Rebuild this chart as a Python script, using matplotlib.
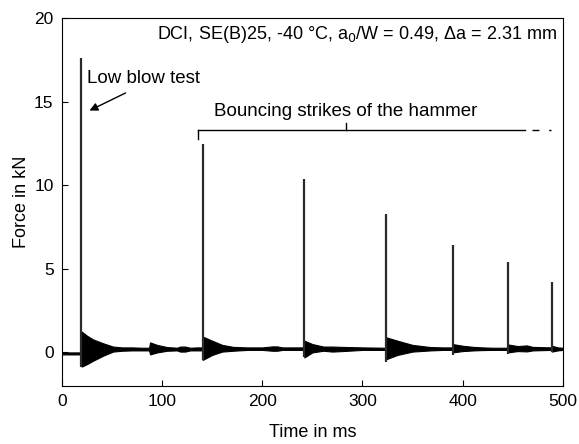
import matplotlib.pyplot as plt
import numpy as np

plt.rcParams['font.family'] = ['Liberation Sans', 'DejaVu Sans']

# hammer strikes: time (ms), peak force (kN), dip right at the strike (kN)
spike_t = [19.5, 140.5, 242, 324, 390, 445, 489]
spike_peak = [17.6, 12.5, 10.4, 8.3, 6.45, 5.4, 4.2]
spike_low = [-0.9, -0.45, -0.3, -0.6, -0.15, -0.1, 0.0]

# envelope of the ringing / noise band (upper and lower bound, kN)
env_t = [0, 18, 19.5, 19.6, 25, 31, 41, 51, 60, 70, 80, 87, 88, 95, 105, 115,
         118, 123, 128, 135, 140.4, 140.5, 150, 160, 171, 185, 200, 210, 215,
         220, 230, 241.9, 242, 250, 261, 270, 280, 300, 323.9, 324, 335, 350,
         368, 380, 389.9, 390, 400, 411, 420, 430, 444.9, 445, 455, 464, 470,
         488.9, 489, 495, 500]
env_hi = [0.0, 0.0, 0.0, 1.25, 1.0, 0.78, 0.55, 0.35, 0.3, 0.3, 0.28, 0.28, 0.6,
          0.45, 0.32, 0.28, 0.35, 0.35, 0.28, 0.3, 0.3, 0.95, 0.7, 0.45, 0.33,
          0.3, 0.3, 0.36, 0.36, 0.3, 0.3, 0.3, 0.7, 0.5, 0.35, 0.35, 0.33, 0.3,
          0.28, 0.9, 0.7, 0.45, 0.32, 0.3, 0.3, 0.5, 0.4, 0.33, 0.3, 0.28, 0.28,
          0.48, 0.38, 0.42, 0.33, 0.3, 0.4, 0.3, 0.28]
env_lo = [-0.12, -0.12, -0.12, -0.85, -0.7, -0.5, -0.2, 0.05, 0.1, 0.12, 0.12,
          0.12, -0.12, 0.0, 0.1, 0.12, 0.05, 0.05, 0.12, 0.12, 0.12, -0.45,
          -0.15, 0.05, 0.1, 0.15, 0.15, 0.1, 0.1, 0.15, 0.15, 0.15, -0.3, 0.0,
          0.1, 0.05, 0.08, 0.15, 0.15, -0.4, -0.15, 0.05, 0.12, 0.15, 0.15, 0.0,
          0.08, 0.12, 0.14, 0.15, 0.15, 0.0, 0.08, 0.06, 0.12, 0.15, 0.05, 0.12,
          0.15]

title = "DCI, SE(B)25, -40 °C, a$_0$/W = 0.49, \u0394a = 2.31 mm"

fig = plt.figure(figsize=(5.79, 4.44), dpi=100)
ax = fig.add_axes([0.107, 0.131, 0.865, 0.828])

ax.fill_between(env_t, env_lo, env_hi, color='black', lw=0.8, edgecolor='black')
ax.vlines(spike_t, spike_low, spike_peak, color='#2a2a2a', lw=1.6)

ax.set_xlim(0, 500)
ax.set_ylim(-2, 20)
ax.set_xticks([0, 100, 200, 300, 400, 500])
ax.set_yticks([0, 5, 10, 15, 20])
ax.tick_params(direction='in', length=4.5, labelsize=12.5, pad=6)
ax.set_xlabel("Time in ms", fontsize=13, labelpad=11)
ax.set_ylabel("Force in kN", fontsize=13, labelpad=3)

ax.text(0.988, 0.955, title, transform=ax.transAxes, ha='right', va='center', fontsize=13)

ax.text(25, 16.4, "Low blow test", ha='left', va='center', fontsize=13.5)
ax.annotate("", xy=(25, 14.4), xytext=(66, 15.6),
            arrowprops=dict(arrowstyle='-|>', color='black', lw=1, mutation_scale=12))

# bracket over the bouncing strikes
ax.plot([136, 462], [13.3, 13.3], color='black', lw=1)
ax.plot([136, 136], [13.3, 12.8], color='black', lw=1)
ax.plot([283.5, 283.5], [13.3, 13.75], color='black', lw=1)
ax.plot([469, 488], [13.3, 13.3], color='black', lw=1, dashes=(5, 7))
ax.text(283.5, 14.4, "Bouncing strikes of the hammer", ha='center', va='center', fontsize=13.5)

plt.savefig("out.png", dpi=100)
